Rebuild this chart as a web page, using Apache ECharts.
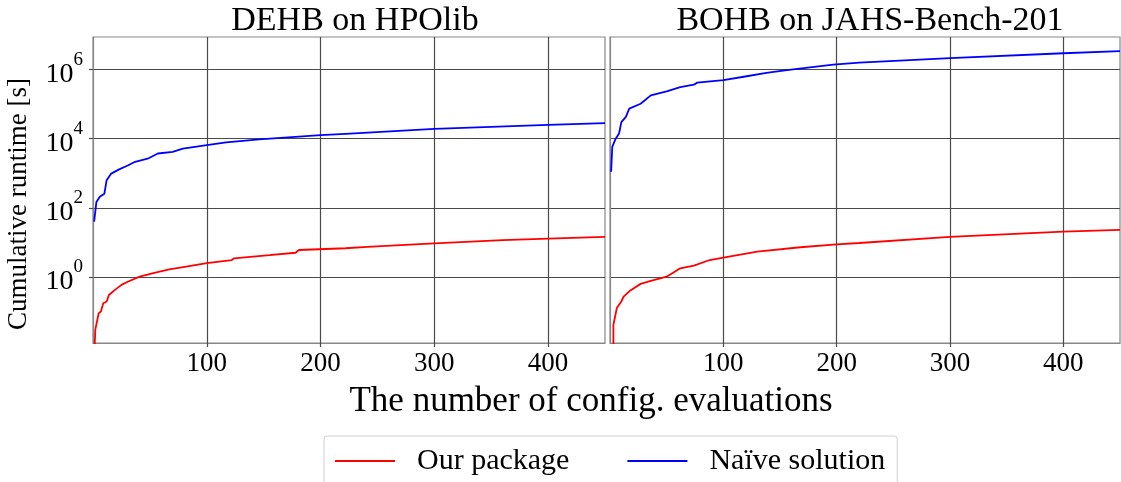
<!DOCTYPE html>
<html>
<head>
<meta charset="utf-8">
<script src="https://cdn.jsdelivr.net/npm/echarts@6/dist/echarts.min.js"></script>
<style>html,body{margin:0;padding:0;background:#fff}#c{width:1121px;height:482px}</style>
</head>
<body>
<div id="c"></div>
<script>
const panelTitles = ['DEHB on HPOlib', 'BOHB on JAHS-Bench-201'];
const seriesNames = ['Our package', 'Naïve solution'];
const xTickValues = [100, 200, 300, 400];
const yTickExponents = [0, 2, 4, 6];

// DEHB on HPOlib
const dehbOursX = [1, 2, 5, 7, 9, 12, 14, 19, 25, 31, 41, 53, 67, 82, 100, 122, 124, 155, 178, 181, 222, 241, 300, 360, 400, 450];
const dehbOursY = [0.004, 0.0295, 0.089, 0.1, 0.174, 0.195, 0.30, 0.417, 0.589, 0.741, 1.02, 1.29, 1.66, 2.0, 2.51, 3.09, 3.47, 4.27, 5.01, 6.03, 6.76, 7.41, 9.33, 11.7, 12.9, 14.5];
const dehbNaiveX = [1, 3, 6, 10, 12, 16, 23, 31, 37, 48, 57, 70, 79, 100, 117, 146, 200, 222, 300, 400, 450];
const dehbNaiveY = [40, 148, 209, 257, 631, 977, 1290, 1700, 2140, 2630, 3720, 4170, 5130, 6460, 7760, 9550, 12600, 13800, 19100, 25100, 28200];

// BOHB on JAHS-Bench-201
const bohbOursX = [3, 3, 6, 10, 12, 18, 27, 36, 50, 62, 74, 88, 100, 130, 168, 200, 220, 300, 400, 450];
const bohbOursY = [0.004, 0.041, 0.126, 0.195, 0.269, 0.407, 0.631, 0.776, 1.02, 1.78, 2.14, 3.09, 3.63, 5.37, 7.24, 8.71, 9.6, 14.5, 20.4, 22.9];
const bohbNaiveX = [1, 2, 5, 8, 10, 14, 17, 27, 36, 50, 62, 74, 77, 100, 118, 138, 156, 197, 220, 300, 400, 450];
const bohbNaiveY = [1100, 5750, 10000, 14100, 30200, 42700, 74100, 102000, 178000, 234000, 309000, 363000, 417000, 490000, 617000, 794000, 955000, 1380000, 1580000, 2140000, 2950000, 3390000];

const FONT = '"Liberation Serif", "DejaVu Serif", serif';
const GRID_COLOR = '#4a4a4a';
const yMin = Math.pow(10, -1.91), yMax = Math.pow(10, 6.94);

function zip(xs, ys) { return xs.map((x, i) => [x, ys[i]]); }

const yTickValues = yTickExponents.map(e => Math.pow(10, e));

function xAxis(gi) {
  return {
    type: 'value', gridIndex: gi, min: 0, max: 450,
    axisLine: { show: true, lineStyle: { color: '#888', width: 1.2 } },
    axisTick: { show: true, length: 4, customValues: xTickValues, lineStyle: { color: GRID_COLOR, width: 1.2 } },
    splitLine: { show: true, lineStyle: { color: GRID_COLOR, width: 1.2 } },
    axisLabel: {
      fontFamily: FONT, fontSize: 27, color: '#000', margin: 7,
      customValues: xTickValues,
      formatter: v => String(v)
    }
  };
}
function yAxis(gi, showLabels) {
  return {
    type: 'log', logBase: 10, gridIndex: gi, min: yMin, max: yMax,
    axisLine: { show: true, lineStyle: { color: '#888', width: 1.2 } },
    axisTick: { show: showLabels, length: 4, customValues: yTickValues, lineStyle: { color: GRID_COLOR, width: 1.2 } },
    splitLine: { show: true, lineStyle: { color: GRID_COLOR, width: 1.2 } },
    axisLabel: {
      show: showLabels, margin: 10,
      customValues: yTickValues,
      formatter: v => '{b|10}{s|' + Math.round(Math.log10(v)) + '}',
      rich: {
        b: { fontFamily: FONT, fontSize: 28, color: '#000', padding: [10, 0, 0, 0] },
        s: { fontFamily: FONT, fontSize: 19, color: '#000', verticalAlign: 'top', padding: [0, 0, 14, 0] }
      }
    }
  };
}
function line(name, color, xi, xs, ys) {
  return {
    type: 'line', name: name, xAxisIndex: xi, yAxisIndex: xi,
    data: zip(xs, ys), showSymbol: false, symbol: 'none', clip: true,
    lineStyle: { color: color, width: 1.8 }, itemStyle: { color: color }
  };
}

const chart = echarts.init(document.getElementById('c'), null, { renderer: 'canvas' });
chart.setOption({
  animation: false,
  backgroundColor: '#fff',
  title: [
    { text: panelTitles[0], left: 350, top: -1, textAlign: 'center', textStyle: { fontFamily: FONT, fontSize: 34, fontWeight: 'normal', color: '#000' } },
    { text: panelTitles[1], left: 865, top: -1, textAlign: 'center', textStyle: { fontFamily: FONT, fontSize: 34, fontWeight: 'normal', color: '#000' } }
  ],
  grid: [
    { left: 93, right: 516, top: 37, bottom: 139, show: true, borderColor: '#888', borderWidth: 1.2 },
    { left: 610, right: 1, top: 37, bottom: 139, show: true, borderColor: '#888', borderWidth: 1.2 }
  ],
  xAxis: [xAxis(0), xAxis(1)],
  yAxis: [yAxis(0, true), yAxis(1, false)],
  legend: {
    data: [{ name: seriesNames[0], icon: 'rect' }, { name: seriesNames[1], icon: 'rect' }],
    left: 324, top: 436,
    padding: [10, 12, 16, 11],
    itemWidth: 60, itemHeight: 2, itemGap: 58,
    borderColor: '#d0d0d0', borderWidth: 1, borderRadius: 3,
    textStyle: { fontFamily: FONT, fontSize: 30, color: '#000', padding: [0, 0, 0, 17] }
  },
  graphic: [
    { type: 'text', x: 591, y: 384, style: { text: 'The number of config. evaluations', font: '35px ' + FONT, fill: '#000', textAlign: 'center' } },
    { type: 'text', rotation: Math.PI / 2, x: 5, y: 330, style: { text: 'Cumulative runtime [s]', font: '27px ' + FONT, fill: '#000' } }
  ],
  series: [
    line(seriesNames[0], '#ff0000', 0, dehbOursX, dehbOursY),
    line(seriesNames[1], '#0000ff', 0, dehbNaiveX, dehbNaiveY),
    line(seriesNames[0], '#ff0000', 1, bohbOursX, bohbOursY),
    line(seriesNames[1], '#0000ff', 1, bohbNaiveX, bohbNaiveY)
  ]
});
</script>
</body>
</html>
